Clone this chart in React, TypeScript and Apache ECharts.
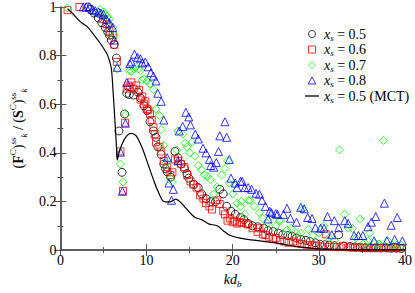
import React, { useEffect, useRef } from 'react';
import * as echarts from 'echarts';

// x_s = 0.5 (circles)
const KD_05 = [3.2, 3.5, 3.9, 4.4, 4.8, 5.2, 5.5, 5.7, 5.9, 6.25, 6.5, 6.8, 7.15, 7.45, 7.7, 8.0, 8.5, 9.0, 9.3, 9.7, 10.05, 10.4, 10.8, 11.1, 11.3, 11.7, 12.0, 12.2, 12.4, 12.8, 13.3, 13.65, 14.0, 14.4, 14.7, 14.9, 15.5, 16.0, 16.4, 16.9, 17.45, 18.0, 18.5, 18.9, 19.3, 19.8, 20.3, 20.9, 21.3, 21.8, 22.3, 22.9, 23.6, 24.1, 24.7, 25.3, 25.8, 26.4, 26.9, 27.4, 27.9, 28.5, 29.0, 29.6, 30.1, 30.7, 31.2, 31.8, 32.3, 32.9, 33.6, 34.2, 34.8, 35.4, 36.0, 36.6, 37.2, 37.8, 38.4, 39.0, 39.6];
const V_05 = [1.0, 0.99, 0.975, 0.955, 0.935, 0.916, 0.897, 0.884, 0.864, 0.845, 0.79, 0.49, 0.32, 0.56, 0.645, 0.64, 0.638, 0.65, 0.625, 0.593, 0.574, 0.528, 0.49, 0.464, 0.425, 0.393, 0.354, 0.335, 0.322, 0.30, 0.406, 0.38, 0.354, 0.335, 0.315, 0.296, 0.27, 0.257, 0.231, 0.212, 0.199, 0.199, 0.25, 0.231, 0.18, 0.16, 0.147, 0.134, 0.125, 0.109, 0.1, 0.096, 0.09, 0.08, 0.076, 0.07, 0.063, 0.06, 0.057, 0.05, 0.044, 0.04, 0.035, 0.03, 0.024, 0.022, 0.02, 0.018, 0.063, 0.016, 0.015, 0.013, 0.012, 0.01, 0.01, 0.01, 0.009, 0.01, 0.008, 0.008, 0.007];

// x_s = 0.6 (squares)
const KD_06 = [0.83, 2.2, 4.95, 5.35, 5.7, 6.07, 6.25, 6.55, 6.97, 7.26, 7.5, 7.7, 7.88, 8.05, 8.24, 8.5, 8.8, 9.15, 9.3, 9.5, 9.7, 9.86, 10.05, 10.2, 10.4, 10.6, 10.8, 10.95, 11.1, 11.5, 11.7, 12.0, 12.4, 12.76, 13.0, 13.3, 13.65, 14.0, 14.4, 14.7, 15.1, 15.4, 15.8, 16.2, 16.6, 16.9, 17.3, 17.6, 18.2, 18.5, 18.9, 19.1, 19.4, 19.7, 20.0, 20.2, 20.5, 20.8, 21.1, 21.6, 21.8, 22.3, 22.9, 23.1, 23.5, 23.8, 24.2, 24.7, 25.0, 25.5, 26.0, 26.5, 27.0, 27.5, 28.0, 28.6, 29.2, 29.7, 30.3, 30.8, 31.3, 31.8, 32.4, 32.8, 33.4, 34.0, 34.6, 35.2, 35.8, 36.4, 37.0, 37.6, 38.2, 38.8, 39.4];
const V_06 = [0.987, 1.0, 0.95, 0.93, 0.9, 0.884, 0.845, 0.774, 0.406, 0.244, 0.524, 0.664, 0.677, 0.67, 0.69, 0.664, 0.677, 0.658, 0.619, 0.632, 0.6, 0.612, 0.58, 0.575, 0.56, 0.535, 0.505, 0.477, 0.444, 0.425, 0.406, 0.367, 0.341, 0.309, 0.32, 0.373, 0.367, 0.355, 0.341, 0.309, 0.283, 0.27, 0.257, 0.225, 0.212, 0.193, 0.18, 0.167, 0.205, 0.19, 0.16, 0.147, 0.121, 0.13, 0.115, 0.121, 0.109, 0.115, 0.112, 0.109, 0.105, 0.09, 0.075, 0.09, 0.065, 0.062, 0.055, 0.045, 0.05, 0.04, 0.035, 0.03, 0.035, 0.028, 0.025, 0.02, 0.02, 0.018, 0.015, 0.065, 0.014, 0.013, 0.012, 0.018, 0.011, 0.01, 0.01, 0.009, 0.008, 0.008, 0.008, 0.008, 0.007, 0.008, 0.007];

// x_s = 0.7 (diamonds)
const KD_07 = [0.83, 4.6, 5.0, 5.2, 5.45, 5.7, 6.07, 6.25, 6.6, 6.97, 7.26, 7.6, 7.98, 8.24, 8.5, 8.7, 9.07, 9.3, 9.5, 9.7, 10.05, 10.4, 10.8, 11.1, 11.5, 11.7, 12.0, 12.3, 12.76, 13.0, 13.5, 13.65, 14.2, 14.5, 14.7, 15.0, 15.3, 15.6, 16.0, 16.4, 16.7, 17.1, 17.4, 17.8, 18.2, 18.7, 19.1, 19.4, 19.6, 20.0, 20.2, 20.5, 20.9, 21.0, 21.4, 21.8, 22.0, 22.5, 23.1, 23.5, 24.0, 24.5, 25.0, 25.4, 25.6, 26.3, 26.8, 27.4, 27.9, 28.1, 28.8, 29.3, 30.0, 30.6, 31.2, 31.8, 32.4, 33.0, 33.4, 33.9, 34.3, 34.8, 35.3, 35.7, 35.9, 36.5, 37.0, 37.5, 38.0, 38.5, 39.0, 39.6];
const V_07 = [0.995, 0.99, 0.98, 0.97, 0.96, 0.95, 0.916, 0.884, 0.745, 0.354, 0.28, 0.557, 0.738, 0.735, 0.745, 0.754, 0.745, 0.74, 0.70, 0.705, 0.696, 0.683, 0.66, 0.58, 0.554, 0.496, 0.431, 0.36, 0.296, 0.28, 0.412, 0.49, 0.477, 0.44, 0.425, 0.40, 0.444, 0.386, 0.348, 0.33, 0.31, 0.302, 0.29, 0.231, 0.26, 0.309, 0.335, 0.367, 0.276, 0.231, 0.27, 0.193, 0.18, 0.20, 0.147, 0.205, 0.205, 0.18, 0.154, 0.13, 0.11, 0.141, 0.1, 0.121, 0.121, 0.083, 0.09, 0.07, 0.07, 0.167, 0.085, 0.06, 0.07, 0.10, 0.05, 0.04, 0.412, 0.147, 0.09, 0.089, 0.05, 0.128, 0.03, 0.038, 0.07, 0.03, 0.025, 0.451, 0.038, 0.02, 0.02, 0.02];

// x_s = 0.8 (triangles)
const KD_08 = [2.65, 3.0, 3.36, 3.7, 4.05, 4.44, 4.7, 5.0, 5.35, 5.7, 6.07, 6.25, 6.6, 6.97, 7.2, 7.55, 7.7, 8.05, 8.24, 8.6, 8.96, 9.3, 9.5, 9.86, 10.2, 10.5, 10.8, 11.1, 11.3, 11.7, 12.0, 12.4, 12.6, 12.9, 13.1, 13.65, 13.8, 14.2, 14.56, 14.9, 15.1, 15.65, 16.0, 16.55, 16.9, 17.3, 17.45, 17.8, 18.1, 18.35, 18.5, 19.1, 19.3, 19.6, 19.8, 20.3, 20.5, 20.9, 21.1, 21.4, 21.8, 22.2, 22.7, 23.1, 23.4, 23.8, 24.1, 24.3, 24.5, 25.0, 25.2, 25.9, 26.3, 26.7, 27.4, 27.9, 28.3, 28.7, 29.2, 29.6, 30.2, 30.6, 31.0, 31.5, 31.8, 32.3, 33.0, 33.4, 34.1, 34.6, 35.1, 35.7, 36.1, 36.4, 36.6, 37.6, 37.9, 38.4, 38.8, 39.1, 39.7];
const V_08 = [1.0, 1.0, 1.0, 0.99, 0.985, 0.98, 0.975, 0.97, 0.95, 0.935, 0.916, 0.864, 0.752, 0.403, 0.242, 0.522, 0.69, 0.767, 0.774, 0.806, 0.793, 0.787, 0.77, 0.774, 0.754, 0.73, 0.716, 0.696, 0.645, 0.612, 0.535, 0.38, 0.276, 0.205, 0.25, 0.367, 0.49, 0.509, 0.567, 0.548, 0.515, 0.477, 0.457, 0.419, 0.40, 0.373, 0.348, 0.341, 0.36, 0.406, 0.47, 0.528, 0.464, 0.373, 0.296, 0.276, 0.257, 0.283, 0.283, 0.257, 0.257, 0.25, 0.234, 0.23, 0.205, 0.18, 0.128, 0.16, 0.154, 0.15, 0.147, 0.147, 0.172, 0.131, 0.115, 0.176, 0.17, 0.134, 0.13, 0.092, 0.09, 0.09, 0.138, 0.063, 0.121, 0.092, 0.121, 0.11, 0.06, 0.06, 0.06, 0.096, 0.115, 0.038, 0.138, 0.193, 0.038, 0.102, 0.044, 0.134, 0.038];

// x_s = 0.5 (MCT) line
const KD_MCT = [0.83, 1.5, 2.3, 3.2, 4.0, 4.6, 5.1, 5.5, 5.9, 6.1, 6.3, 6.5, 6.6, 6.8, 7.2, 7.7, 8.2, 8.8, 9.5, 10.2, 10.8, 11.3, 12.0, 12.7, 13.4, 14.0, 14.5, 15.6, 16.4, 17.2, 18.2, 18.9, 19.6, 20.7, 21.5, 23.6, 25.0, 26.5, 28.0, 30.0, 33.0, 36.0, 40.0];
const V_MCT = [0.993, 0.97, 0.94, 0.916, 0.88, 0.852, 0.825, 0.80, 0.75, 0.66, 0.55, 0.43, 0.37, 0.40, 0.44, 0.47, 0.48, 0.47, 0.42, 0.35, 0.29, 0.245, 0.20, 0.198, 0.21, 0.195, 0.175, 0.135, 0.125, 0.108, 0.10, 0.08, 0.062, 0.05, 0.045, 0.036, 0.03, 0.02, 0.012, 0.005, 0.002, 0.001, 0.001];

const LEGEND_NAMES = ['0.5', '0.6', '0.7', '0.8', '0.5 (MCT)'];
const COLORS = ['#000000', '#ff0000', '#00ff00', '#0000ff', '#000000'];

const pairs = (xs: number[], ys: number[]) => xs.map((x, i) => [x, ys[i]]);

const SERIF = "'Liberation Serif', 'Times New Roman', serif";
const FRAME = '#555555';

const ICON_SQUARE = 'path://M0,0H10V10H0Z';
const ICON_DIAMOND = 'path://M5,0L10,5L5,10L0,5Z';
const ICON_TRIANGLE = 'path://M5,0L10,9L0,9Z';
const ICON_LINE = 'path://M0,0H14V1.3H0Z';

export default function App() {
  const ref = useRef<HTMLDivElement>(null);
  useEffect(() => {
    document.body.style.margin = '0';
    if (!ref.current) return;
    const chart = echarts.init(ref.current, undefined, { renderer: 'svg' });
    const symbols = ['circle', 'rect', 'diamond', 'triangle'];
    const legendIcons = ['circle', ICON_SQUARE, ICON_DIAMOND, ICON_TRIANGLE];
    const sizes = [8, 7, 8, 8];
    const datasets = [pairs(KD_05, V_05), pairs(KD_06, V_06), pairs(KD_07, V_07), pairs(KD_08, V_08)];
    const scatterSeries = datasets.map((d, i) => ({
      name: LEGEND_NAMES[i],
      type: 'scatter',
      data: d,
      symbol: symbols[i],
      symbolSize: sizes[i],
      itemStyle: { color: 'rgba(0,0,0,0)', borderColor: COLORS[i], borderWidth: 1 },
      z: 2 + i,
    }));
    const baseRich = {
      t: { fontFamily: SERIF, fontSize: 14, color: '#000', lineHeight: 16, verticalAlign: 'middle' },
      i: { fontFamily: SERIF, fontSize: 14, fontStyle: 'italic', color: '#000', lineHeight: 16, verticalAlign: 'middle' },
      s: { fontFamily: SERIF, fontSize: 9, fontStyle: 'italic', color: '#000', lineHeight: 8, verticalAlign: 'bottom' },
    };
    const axisCommon = {
      axisLine: { show: true, lineStyle: { color: FRAME, width: 1.5 } },
      axisTick: { show: true, inside: true, length: 6, lineStyle: { color: FRAME, width: 1 } },
      minorTick: { show: true, splitNumber: 2, length: 3, lineStyle: { color: FRAME, width: 1 } },
      splitLine: { show: false },
    };
    chart.setOption({
      animation: false,
      backgroundColor: '#ffffff',
      textStyle: { fontFamily: SERIF },
      grid: { left: 39, right: 7, top: 5, bottom: 30 },
      legend: {
        orient: 'vertical',
        left: 300,
        top: 22,
        itemWidth: 14,
        itemHeight: 7,
        itemGap: 0.5,
        symbolKeepAspect: true,
        selectedMode: false,
        data: LEGEND_NAMES.map((n, i) =>
          i < 4
            ? { name: n, icon: legendIcons[i], itemStyle: { color: 'rgba(0,0,0,0)', borderColor: COLORS[i], borderWidth: 1 } }
            : { name: n, icon: ICON_LINE, itemStyle: { color: '#000', borderWidth: 0 } }
        ),
        formatter: (name: string) => `{i|x}{s|s}{t| = ${name}}`,
        textStyle: { fontFamily: SERIF, rich: baseRich },
      },
      xAxis: [
        {
          type: 'value', min: 0, max: 40, interval: 10, position: 'bottom',
          ...axisCommon,
          axisLabel: { fontFamily: SERIF, fontSize: 14, color: '#000', margin: 3 },
          name: '{i|kd}{s|b}',
          nameLocation: 'middle',
          nameGap: 13,
          nameTextStyle: { fontFamily: SERIF, rich: { ...baseRich, i: { ...baseRich.i, lineHeight: 18 } } },
        },
        {
          type: 'value', min: 0, max: 40, interval: 10, position: 'top',
          ...axisCommon,
          axisLabel: { show: false },
        },
      ],
      yAxis: [
        {
          type: 'value', min: 0, max: 1, interval: 0.2, position: 'left',
          ...axisCommon,
          axisLabel: { fontFamily: SERIF, fontSize: 14, color: '#000', margin: 4, formatter: (v: number) => (v === 0 ? '0' : v === 1 ? '1' : String(+v.toFixed(1))) },
          name: '{t|(}{b|F}{p|C}{t|)}{p|ss}{s|k}{t| / (}{b|S}{p|C}{t|)}{p|ss}{s|k}',
          nameLocation: 'middle',
          nameGap: 24,
          nameTextStyle: {
            fontFamily: SERIF,
            rich: {
              t: { fontFamily: SERIF, fontSize: 14, color: '#000', lineHeight: 20, verticalAlign: 'middle' },
              b: { fontFamily: SERIF, fontSize: 14, fontWeight: 'bold', color: '#000', lineHeight: 20, verticalAlign: 'middle' },
              p: { fontFamily: SERIF, fontSize: 9, color: '#000', lineHeight: 9, verticalAlign: 'top' },
              s: { fontFamily: SERIF, fontSize: 9, fontStyle: 'italic', color: '#000', lineHeight: 9, verticalAlign: 'bottom' },
            },
          },
        },
        {
          type: 'value', min: 0, max: 1, interval: 0.2, position: 'right',
          ...axisCommon,
          axisLabel: { show: false },
        },
      ],
      series: [
        ...scatterSeries,
        {
          name: LEGEND_NAMES[4],
          type: 'line',
          data: pairs(KD_MCT, V_MCT),
          symbol: 'none',
          smooth: 0.3,
          lineStyle: { color: '#000', width: 1.2 },
          itemStyle: { color: '#000' },
          z: 10,
        },
      ],
    });
    return () => chart.dispose();
  }, []);
  return <div ref={ref} style={{ width: 415, height: 293 }} />;
}
